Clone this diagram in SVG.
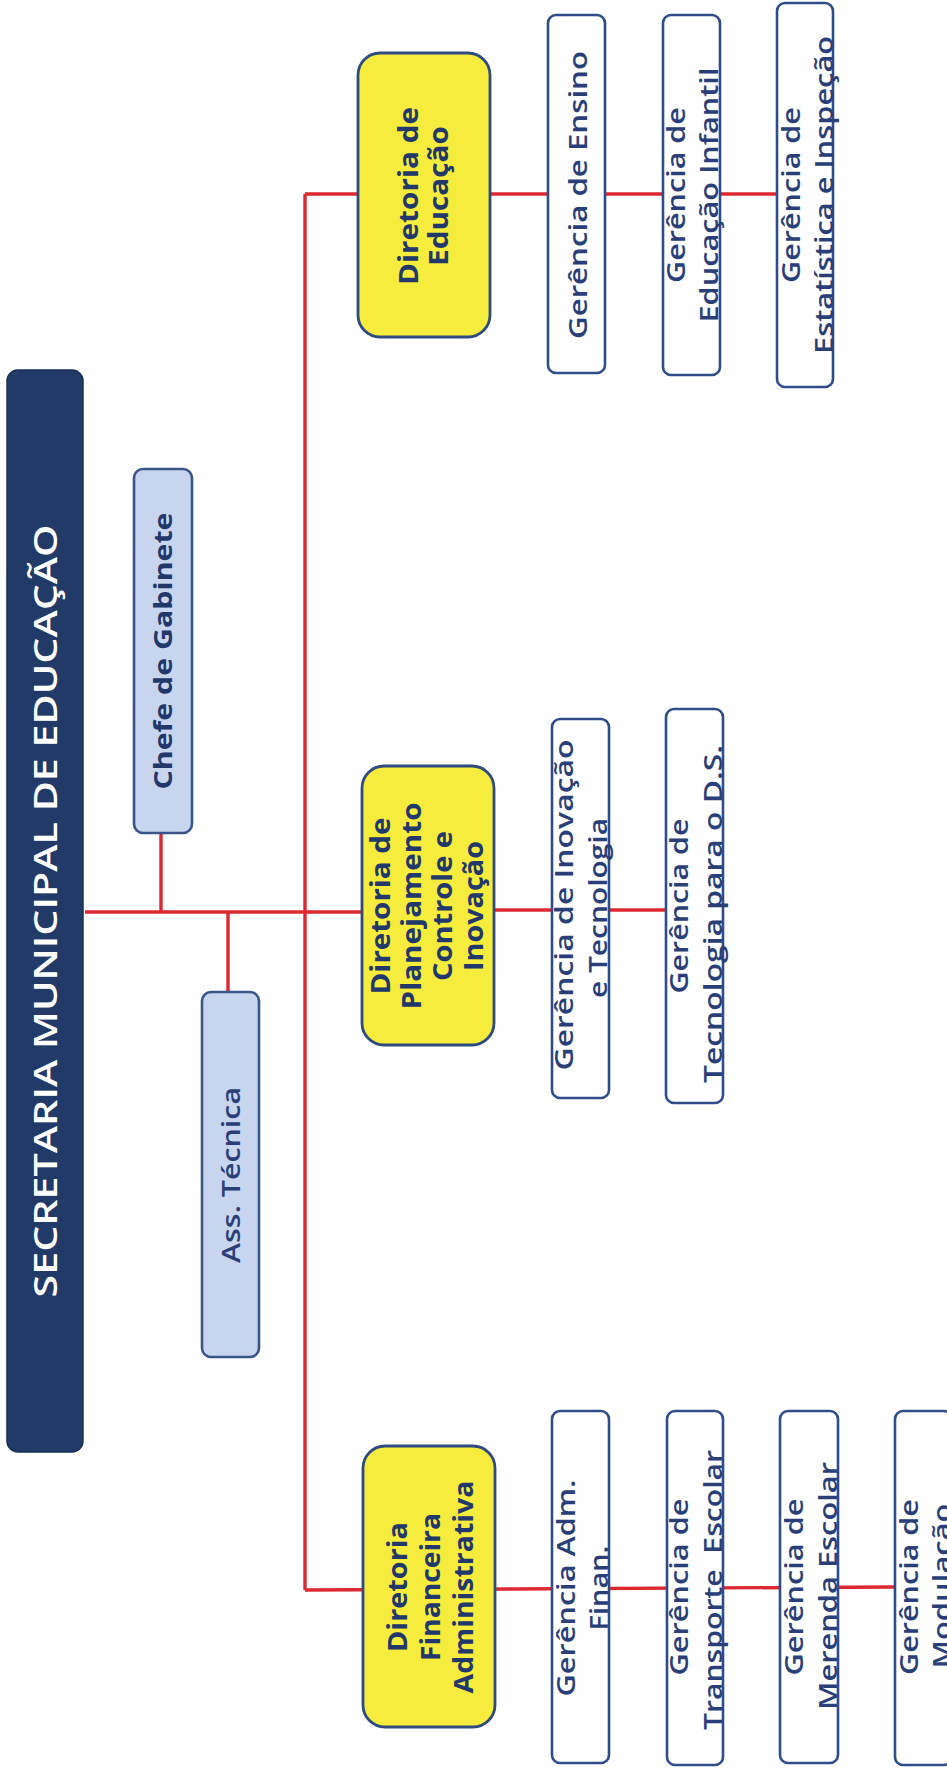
<svg xmlns="http://www.w3.org/2000/svg" width="947" height="1769" viewBox="0 0 947 1769">
<style>
.bg{fill:#ffffff}
.ln{stroke:#dc2830;stroke-width:3.4;fill:none}
.main{fill:#213a68;stroke:#1a2f55;stroke-width:1.5}
.blue{fill:#c7d5ef;stroke:#3a5688;stroke-width:2.6}
.yel{fill:#f6ec3e;stroke:#2f4a7e;stroke-width:2.8}
.ger{fill:#ffffff;stroke:#2f4d8a;stroke-width:2.6}
.tt{font-family:"Open Sans","Liberation Sans",sans-serif;font-size:32px;font-weight:600;fill:#ffffff;text-anchor:middle}
.tb{font-family:"Open Sans","Liberation Sans",sans-serif;font-size:25px;font-weight:700;fill:#22386a;text-anchor:middle}
.td{font-family:"Open Sans","Liberation Sans",sans-serif;font-size:26px;font-weight:700;fill:#22386a;text-anchor:middle}
.tg{font-family:"Open Sans","Liberation Sans",sans-serif;font-size:25px;font-weight:600;fill:#2a3f78;text-anchor:middle}
</style>
<rect class="bg" x="0" y="0" width="947" height="1769"/>
<g id="connectors">
<path class="ln" d="M85 912 H362"/>
<path class="ln" d="M161 833 V912"/>
<path class="ln" d="M228 912 V992"/>
<path class="ln" d="M305 194 V1590"/>
<path class="ln" d="M305 194 H777"/>
<path class="ln" d="M494 910 H666"/>
<path class="ln" d="M305 1590 L895 1587"/>
</g>
<g id="secretaria">
<rect class="main" x="7" y="370" width="76" height="1082" rx="11"/>
<text class="tt" transform="translate(57,911) rotate(-90)" textLength="773" lengthAdjust="spacingAndGlyphs">SECRETARIA MUNICIPAL DE EDUCAÇÃO</text>
</g>
<g id="chefe">
<rect class="blue" x="134" y="469" width="58" height="364" rx="9"/>
<text class="tb" transform="translate(172,651) rotate(-90)" textLength="277" lengthAdjust="spacingAndGlyphs">Chefe de Gabinete</text>
</g>
<g id="ass">
<rect class="blue" x="202" y="992" width="57" height="365" rx="9"/>
<text class="tg" transform="translate(240,1175) rotate(-90)" textLength="176" lengthAdjust="spacingAndGlyphs">Ass. Técnica</text>
</g>
<g id="dir-edu">
<rect class="yel" x="358" y="53" width="132" height="284" rx="22"/>
<text class="td" transform="translate(418,196) rotate(-90)" textLength="178" lengthAdjust="spacingAndGlyphs">Diretoria de</text>
<text class="td" transform="translate(448,196) rotate(-90)" textLength="140" lengthAdjust="spacingAndGlyphs">Educação</text>
</g>
<g id="dir-plan">
<rect class="yel" x="362" y="766" width="132" height="279" rx="22"/>
<text class="td" transform="translate(390,906) rotate(-90)" textLength="177" lengthAdjust="spacingAndGlyphs">Diretoria de</text>
<text class="td" transform="translate(421,906) rotate(-90)" textLength="207" lengthAdjust="spacingAndGlyphs">Planejamento</text>
<text class="td" transform="translate(452,906) rotate(-90)" textLength="150" lengthAdjust="spacingAndGlyphs">Controle e</text>
<text class="td" transform="translate(483,906) rotate(-90)" textLength="130" lengthAdjust="spacingAndGlyphs">Inovação</text>
</g>
<g id="dir-fin">
<rect class="yel" x="363" y="1446" width="132" height="281" rx="22"/>
<text class="td" transform="translate(407,1587) rotate(-90)" textLength="130" lengthAdjust="spacingAndGlyphs">Diretoria</text>
<text class="td" transform="translate(440,1587) rotate(-90)" textLength="148" lengthAdjust="spacingAndGlyphs">Financeira</text>
<text class="td" transform="translate(473,1587) rotate(-90)" textLength="213" lengthAdjust="spacingAndGlyphs">Administrativa</text>
</g>
<g id="ger-ensino">
<rect class="ger" x="548" y="15" width="57" height="358" rx="8"/>
<text class="tg" transform="translate(587,195) rotate(-90)" textLength="288" lengthAdjust="spacingAndGlyphs">Gerência de Ensino</text>
</g>
<g id="ger-infantil">
<rect class="ger" x="663" y="15" width="57" height="360" rx="8"/>
<text class="tg" transform="translate(685,195) rotate(-90)" textLength="176" lengthAdjust="spacingAndGlyphs">Gerência de</text>
<text class="tg" transform="translate(718,195) rotate(-90)" textLength="255" lengthAdjust="spacingAndGlyphs">Educação Infantil</text>
</g>
<g id="ger-estatistica">
<rect class="ger" x="777" y="3" width="56" height="384" rx="8"/>
<text class="tg" transform="translate(800,195) rotate(-90)" textLength="176" lengthAdjust="spacingAndGlyphs">Gerência de</text>
<text class="tg" transform="translate(833,195) rotate(-90)" textLength="318" lengthAdjust="spacingAndGlyphs">Estatística e Inspeção</text>
</g>
<g id="ger-inovacao">
<rect class="ger" x="552" y="719" width="57" height="379" rx="8"/>
<text class="tg" transform="translate(573,905) rotate(-90)" textLength="331" lengthAdjust="spacingAndGlyphs">Gerência de Inovação</text>
<text class="tg" transform="translate(607,908) rotate(-90)" textLength="180" lengthAdjust="spacingAndGlyphs">e Tecnologia</text>
</g>
<g id="ger-tecnologia">
<rect class="ger" x="666" y="709" width="57" height="394" rx="8"/>
<text class="tg" transform="translate(688,906) rotate(-90)" textLength="175" lengthAdjust="spacingAndGlyphs">Gerência de</text>
<text class="tg" transform="translate(722,914) rotate(-90)" textLength="338" lengthAdjust="spacingAndGlyphs">Tecnologia para o D.S.</text>
</g>
<g id="ger-adm">
<rect class="ger" x="552" y="1411" width="57" height="352" rx="8"/>
<text class="tg" transform="translate(575,1588) rotate(-90)" textLength="217" lengthAdjust="spacingAndGlyphs">Gerência Adm.</text>
<text class="tg" transform="translate(608,1588) rotate(-90)" textLength="85" lengthAdjust="spacingAndGlyphs">Finan.</text>
</g>
<g id="ger-transporte">
<rect class="ger" x="667" y="1411" width="56" height="354" rx="8"/>
<text class="tg" transform="translate(688,1587) rotate(-90)" textLength="177" lengthAdjust="spacingAndGlyphs">Gerência de</text>
<text class="tg" transform="translate(722,1590) rotate(-90)" textLength="280" lengthAdjust="spacingAndGlyphs" xml:space="preserve">Transporte  Escolar</text>
</g>
<g id="ger-merenda">
<rect class="ger" x="780" y="1411" width="58" height="352" rx="8"/>
<text class="tg" transform="translate(803,1587) rotate(-90)" textLength="177" lengthAdjust="spacingAndGlyphs">Gerência de</text>
<text class="tg" transform="translate(837,1586) rotate(-90)" textLength="248" lengthAdjust="spacingAndGlyphs">Merenda Escolar</text>
</g>
<g id="ger-modulacao">
<rect class="ger" x="895" y="1411" width="57" height="354" rx="8"/>
<text class="tg" transform="translate(918,1587) rotate(-90)" textLength="176" lengthAdjust="spacingAndGlyphs">Gerência de</text>
<text class="tg" transform="translate(951,1586) rotate(-90)" textLength="165" lengthAdjust="spacingAndGlyphs">Modulação</text>
</g>
</svg>
